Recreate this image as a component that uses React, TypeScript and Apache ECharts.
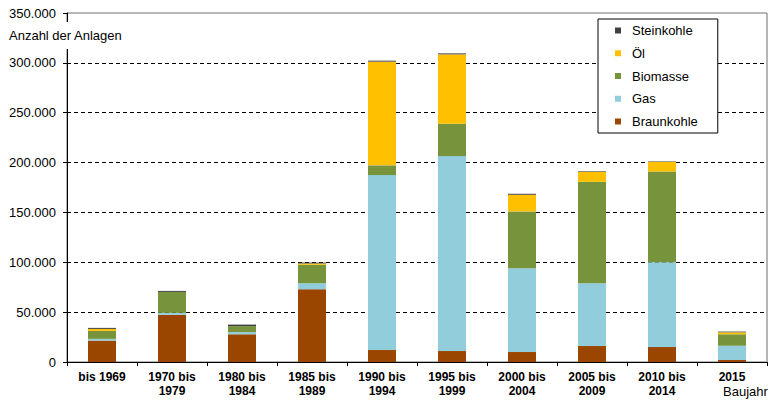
import React, { useEffect, useRef } from "react";
import * as echarts from "echarts";

const categories = [
  "bis 1969",
  "1970 bis\n1979",
  "1980 bis\n1984",
  "1985 bis\n1989",
  "1990 bis\n1994",
  "1995 bis\n1999",
  "2000 bis\n2004",
  "2005 bis\n2009",
  "2010 bis\n2014",
  "2015",
];

const braunkohle = [21500, 47300, 27800, 73000, 12000, 11000, 10000, 16000, 15000, 2000];
const gas = [1700, 2000, 2200, 6000, 175500, 195500, 84000, 63000, 85000, 14300];
const biomasse = [8000, 21000, 6000, 18500, 9700, 32500, 57000, 101700, 91000, 11500];
const oel = [2000, 0, 0, 1300, 104000, 69500, 16700, 10000, 9700, 2000];
const steinkohle = [1000, 1000, 1500, 900, 1000, 1000, 1000, 600, 500, 700];

const yTicks = { min: 0, max: 350000, interval: 50000 };

const seriesDefs = [
  { name: "Braunkohle", data: braunkohle, color: "#9A4600" },
  { name: "Gas", data: gas, color: "#92CDDC" },
  { name: "Biomasse", data: biomasse, color: "#77933C" },
  { name: "Öl", data: oel, color: "#FFC000" },
  { name: "Steinkohle", data: steinkohle, color: "#404040" },
];

const legendOrder = ["Steinkohle", "Öl", "Biomasse", "Gas", "Braunkohle"];

const FONT = "Liberation Sans, Arial, sans-serif";

function fmt(v: number): string {
  return String(v).replace(/\B(?=(\d{3})+(?!\d))/g, ".");
}

export default function App() {
  const ref = useRef<HTMLDivElement>(null);
  useEffect(() => {
    if (!ref.current) return;
    const chart = echarts.init(ref.current, undefined, { renderer: "svg" });
    const nLines = (yTicks.max - yTicks.min) / yTicks.interval + 1;
    const splitColors: string[] = [];
    for (let i = 0; i < nLines; i++) {
      splitColors.push(i === 0 || i === nLines - 1 ? "rgba(0,0,0,0)" : "#000");
    }
    chart.setOption({
      animation: false,
      backgroundColor: "#fff",
      textStyle: { fontFamily: FONT },
      grid: {
        left: 67,
        right: 12,
        top: 13,
        bottom: 42,
        show: true,
        borderColor: "#6e6e6e",
        borderWidth: 1,
        backgroundColor: "transparent",
      },
      legend: {
        data: legendOrder,
        orient: "vertical",
        left: 598,
        top: 19,
        padding: [4, 20, 4, 17],
        itemWidth: 6,
        itemHeight: 6,
        itemGap: 7.75,
        icon: "rect",
        borderColor: "#000",
        borderWidth: 1,
        backgroundColor: "#fff",
        textStyle: {
          fontFamily: FONT,
          fontSize: 13,
          color: "#000",
          lineHeight: 15,
          padding: [0, 0, 0, 6],
        },
      },
      xAxis: {
        type: "category",
        data: categories,
        axisLine: { lineStyle: { color: "#000", width: 1 } },
        axisTick: { show: true, length: 4, lineStyle: { color: "#000" } },
        axisLabel: {
          fontFamily: FONT,
          fontSize: 12,
          fontWeight: "bold",
          color: "#000",
          lineHeight: 14,
          margin: 8,
          interval: 0,
        },
      },
      yAxis: {
        type: "value",
        min: yTicks.min,
        max: yTicks.max,
        interval: yTicks.interval,
        axisLine: { show: true, lineStyle: { color: "#000", width: 1 } },
        axisTick: { show: true, length: 4, lineStyle: { color: "#000" } },
        axisLabel: {
          fontFamily: FONT,
          fontSize: 13,
          color: "#000",
          margin: 11,
          formatter: (v: number) => fmt(v),
        },
        splitLine: {
          show: true,
          lineStyle: { color: splitColors, type: [4, 3], width: 1 },
        },
      },
      series: seriesDefs.map((s) => ({
        name: s.name,
        type: "bar",
        stack: "total",
        data: s.data,
        barWidth: 28,
        itemStyle: { color: s.color },
      })),
      graphic: [
        {
          type: "text",
          z: 100,
          left: 6,
          top: 22,
          style: {
            text: "Anzahl der Anlagen",
            fontFamily: FONT,
            fontSize: 13,
            fill: "#000",
            backgroundColor: "#fff",
            padding: [7, 3, 7, 3],
          },
        },
        {
          type: "text",
          z: 100,
          left: 723,
          top: 385,
          style: {
            text: "Baujahr",
            fontFamily: FONT,
            fontSize: 13,
            fill: "#000",
          },
        },
      ],
    });
    return () => chart.dispose();
  }, []);
  return (
    <div
      ref={ref}
      style={{ position: "fixed", left: 0, top: 0, width: 779, height: 404 }}
    />
  );
}
